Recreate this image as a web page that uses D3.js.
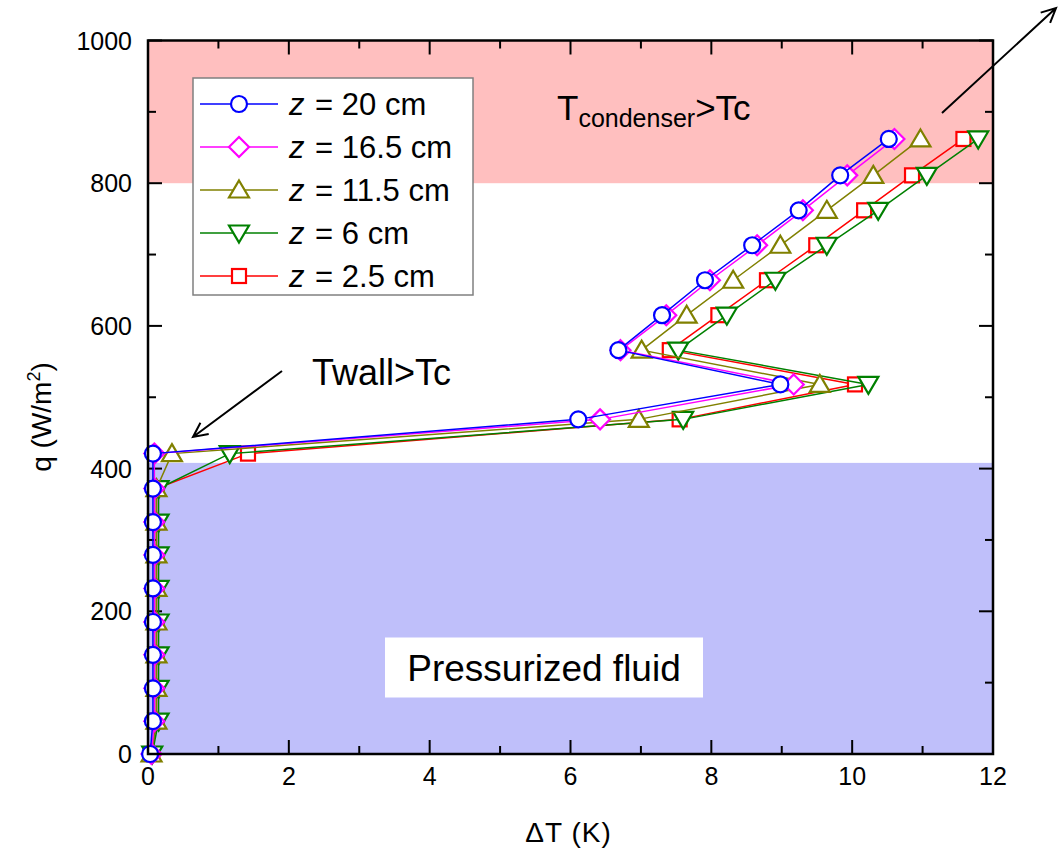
<!DOCTYPE html>
<html>
<head>
<meta charset="utf-8">
<script src="https://cdn.jsdelivr.net/npm/d3@7"></script>
<style>
  body { margin: 0; background: #fff; }
  svg { font-family: "Liberation Sans", Arial, sans-serif; }
</style>
</head>
<body>
<div id="chart"></div>
<script>
// heat flux levels (W/m2), shared by all thermocouples
var qVals = [0, 46, 92, 139, 185, 232, 279, 325, 372, 421, 469, 518, 566, 615, 664, 713, 762, 811, 862];

var dT_z20   = [0.03, 0.07, 0.07, 0.07, 0.07, 0.07, 0.07, 0.07, 0.07, 0.07, 6.11, 8.98, 6.68, 7.30, 7.91, 8.58, 9.24, 9.83, 10.52];
var dT_z165  = [0.05, 0.09, 0.09, 0.09, 0.09, 0.09, 0.09, 0.09, 0.09, 0.09, 6.42, 9.17, 6.71, 7.36, 7.98, 8.65, 9.30, 9.93, 10.60];
var dT_z115  = [0.05, 0.12, 0.12, 0.12, 0.12, 0.12, 0.12, 0.12, 0.12, 0.34, 6.97, 9.54, 7.01, 7.65, 8.31, 8.98, 9.64, 10.30, 10.97];
var dT_z6    = [0.06, 0.15, 0.15, 0.15, 0.15, 0.15, 0.15, 0.15, 0.15, 1.16, 7.60, 10.23, 7.53, 8.22, 8.91, 9.64, 10.37, 11.06, 11.79];
var dT_z25   = [0.06, 0.12, 0.12, 0.12, 0.12, 0.12, 0.12, 0.12, 0.12, 1.42, 7.55, 10.04, 7.41, 8.10, 8.79, 9.49, 10.17, 10.85, 11.58];

var seriesNames  = ["20", "16.5", "11.5", "6", "2.5"];
var seriesColors = ["#0000ff", "#ff00ff", "#808000", "#008000", "#ff0000"];
var seriesShapes = ["circle", "diamond", "triUp", "triDown", "square"];
var seriesData   = [dT_z20, dT_z165, dT_z115, dT_z6, dT_z25];

var xTicks = [0, 2, 4, 6, 8, 10, 12];
var yTicks = [0, 200, 400, 600, 800, 1000];

var W = 1058, H = 856;
var margin = {top: 40.5, right: 65, bottom: 102, left: 148};
var pw = W - margin.left - margin.right,
    ph = H - margin.top - margin.bottom;

var svg = d3.select("#chart").append("svg")
    .attr("width", W)
    .attr("height", H);

var g = svg.append("g")
    .attr("transform", "translate(" + margin.left + "," + margin.top + ")");

var x = d3.scaleLinear().domain([0, 12]).range([0, pw]);
var y = d3.scaleLinear().domain([0, 1000]).range([ph, 0]);

// shaded regimes
g.append("rect")
    .attr("x", x(0)).attr("y", y(1000))
    .attr("width", x(12) - x(0)).attr("height", y(800) - y(1000))
    .attr("fill", "#ffbfbf");
g.append("rect")
    .attr("x", x(0)).attr("y", y(408))
    .attr("width", x(12) - x(0)).attr("height", y(0) - y(408))
    .attr("fill", "#bfbffa");

// "Pressurized fluid" label box
g.append("rect")
    .attr("x", 237).attr("y", 597)
    .attr("width", 318).attr("height", 60)
    .attr("fill", "#fff");
g.append("text")
    .attr("x", 396).attr("y", 640)
    .attr("text-anchor", "middle")
    .attr("font-size", 37)
    .text("Pressurized fluid");

// ticks, all pointing inward, mirrored on four sides
var majLen = 14, minLen = 8;
var xMinor = d3.range(1, 12, 2), yMinor = d3.range(100, 1000, 200);
var axG = g.append("g").attr("stroke", "#000").attr("stroke-width", 2);
xTicks.forEach(function(t) {
  axG.append("line").attr("x1", x(t)).attr("x2", x(t)).attr("y1", ph).attr("y2", ph - majLen);
  axG.append("line").attr("x1", x(t)).attr("x2", x(t)).attr("y1", 0).attr("y2", majLen);
});
xMinor.forEach(function(t) {
  axG.append("line").attr("x1", x(t)).attr("x2", x(t)).attr("y1", ph).attr("y2", ph - minLen);
  axG.append("line").attr("x1", x(t)).attr("x2", x(t)).attr("y1", 0).attr("y2", minLen);
});
yTicks.forEach(function(t) {
  axG.append("line").attr("y1", y(t)).attr("y2", y(t)).attr("x1", 0).attr("x2", majLen);
  axG.append("line").attr("y1", y(t)).attr("y2", y(t)).attr("x1", pw).attr("x2", pw - majLen);
});
yMinor.forEach(function(t) {
  axG.append("line").attr("y1", y(t)).attr("y2", y(t)).attr("x1", 0).attr("x2", minLen);
  axG.append("line").attr("y1", y(t)).attr("y2", y(t)).attr("x1", pw).attr("x2", pw - minLen);
});

// tick labels
g.selectAll(".xlab").data(xTicks).enter().append("text")
    .attr("class", "xlab")
    .attr("x", function(d) { return x(d); })
    .attr("y", ph + 31)
    .attr("text-anchor", "middle")
    .attr("font-size", 25)
    .text(function(d) { return d; });
g.selectAll(".ylab").data(yTicks).enter().append("text")
    .attr("class", "ylab")
    .attr("x", -16)
    .attr("y", function(d) { return y(d) + 9; })
    .attr("text-anchor", "end")
    .attr("font-size", 25)
    .text(function(d) { return d; });

// axis titles
g.append("text")
    .attr("x", x(6) - 2).attr("y", ph + 88)
    .attr("text-anchor", "middle")
    .attr("font-size", 28)
    .attr("letter-spacing", 1)
    .text("\u0394T (K)");
var yt = svg.append("text")
    .attr("transform", "translate(51," + 417 + ") rotate(-90)")
    .attr("text-anchor", "middle")
    .attr("font-size", 28);
yt.append("tspan").text("q (W/m");
yt.append("tspan").attr("dy", -11).attr("font-size", 18).text("2");
yt.append("tspan").attr("dy", 11).text(")");

// marker drawing
function drawMarker(sel, shape, color) {
  if (shape == "circle") {
    sel.append("circle").attr("r", 8);
  } else if (shape == "square") {
    sel.append("rect").attr("x", -7).attr("y", -7).attr("width", 14).attr("height", 14);
  } else if (shape == "diamond") {
    sel.append("path").attr("d", "M0,-10L10,0L0,10L-10,0Z");
  } else if (shape == "triUp") {
    sel.append("path").attr("d", "M0,-9.5L10,7.5L-10,7.5Z");
  } else {
    sel.append("path").attr("d", "M0,9.5L10,-7.5L-10,-7.5Z");
  }
  sel.selectAll("circle,rect,path")
      .attr("fill", "#fff")
      .attr("stroke", color)
      .attr("stroke-width", 2.2);
}

var line = d3.line()
    .x(function(d) { return x(d[0]); })
    .y(function(d) { return y(d[1]); });

// draw from last series to first so z = 20 cm sits on top
for (var s = seriesData.length - 1; s >= 0; s--) {
  var pts = seriesData[s].map(function(v, i) { return [v, qVals[i]]; });
  var sg = g.append("g");
  sg.append("path")
      .datum(pts)
      .attr("d", line)
      .attr("fill", "none")
      .attr("stroke", seriesColors[s])
      .attr("stroke-width", 1.5);
  sg.selectAll(".m").data(pts).enter().append("g")
      .attr("class", "m")
      .attr("transform", function(d) { return "translate(" + x(d[0]) + "," + y(d[1]) + ")"; })
      .each(function() { drawMarker(d3.select(this), seriesShapes[s], seriesColors[s]); });
}

// frame
g.append("rect")
    .attr("x", 0).attr("y", 0).attr("width", pw).attr("height", ph)
    .attr("fill", "none").attr("stroke", "#000").attr("stroke-width", 2.5);

// legend
var lg = svg.append("g").attr("transform", "translate(193,78)");
lg.append("rect")
    .attr("width", 280).attr("height", 217)
    .attr("fill", "#fff").attr("stroke", "#808080").attr("stroke-width", 1.5);
seriesNames.forEach(function(name, i) {
  var ly = 26 + i * 43;
  lg.append("line")
      .attr("x1", 7).attr("x2", 85).attr("y1", ly).attr("y2", ly)
      .attr("stroke", seriesColors[i]).attr("stroke-width", 1.5);
  var mk = lg.append("g").attr("transform", "translate(46," + ly + ")");
  drawMarker(mk, seriesShapes[i], seriesColors[i]);
  var t = lg.append("text")
      .attr("x", 96).attr("y", ly + 11)
      .attr("font-size", 31);
  t.append("tspan").attr("font-style", "italic").text("z");
  t.append("tspan").attr("dx", 2).text(" = " + name + " cm");
});

// annotations
var ann = svg.append("text").attr("x", 557).attr("y", 120).attr("font-size", 35);
ann.append("tspan").text("T");
ann.append("tspan").attr("dy", 7).attr("font-size", 25).text("condenser");
ann.append("tspan").attr("dy", -7).text(">Tc");

svg.append("text")
    .attr("x", 312).attr("y", 385)
    .attr("font-size", 36)
    .text("Twall>Tc");

function arrow(x1, y1, x2, y2) {
  var a = Math.atan2(y2 - y1, x2 - x1), len = 16, sp = 0.45;
  svg.append("path")
      .attr("d", "M" + x1 + "," + y1 + "L" + x2 + "," + y2 +
        "M" + (x2 - len * Math.cos(a - sp)) + "," + (y2 - len * Math.sin(a - sp)) +
        "L" + x2 + "," + y2 +
        "L" + (x2 - len * Math.cos(a + sp)) + "," + (y2 - len * Math.sin(a + sp)))
      .attr("fill", "none").attr("stroke", "#000").attr("stroke-width", 2);
}
arrow(282, 371, 193, 437);
arrow(942, 113, 1056, 8);
</script>
</body>
</html>
